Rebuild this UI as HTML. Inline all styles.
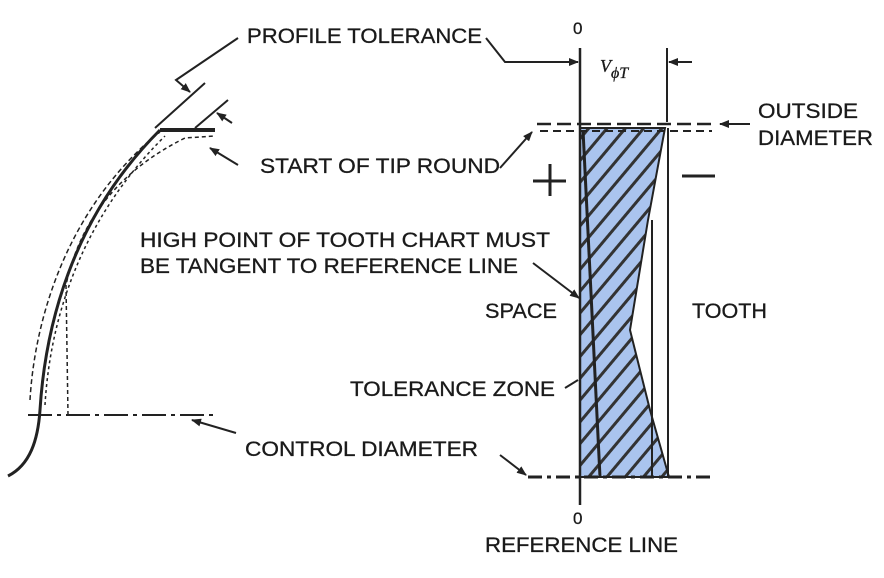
<!DOCTYPE html>
<html><head><meta charset="utf-8"><style>
html,body{margin:0;padding:0;background:#fff;}
svg{display:block;}
text{font-family:"Liberation Sans",sans-serif;font-size:21px;fill:#1a1a1a;stroke:#1a1a1a;stroke-width:0.3;}
</style></head><body>
<svg width="884" height="578" viewBox="0 0 884 578" xmlns="http://www.w3.org/2000/svg">
<defs>
<marker id="a" markerWidth="10" markerHeight="8" refX="9" refY="4" orient="auto" markerUnits="userSpaceOnUse">
<path d="M0,0 L10,4 L0,8 z" fill="#222"/></marker>
<pattern id="h" width="14" height="14" patternUnits="userSpaceOnUse" patternTransform="rotate(40)">
<rect width="14" height="14" fill="#aac4ee"/><rect width="3" height="14" fill="#333"/></pattern>
</defs>
<g stroke="#222" fill="none">
<!-- left profile -->
<path d="M8,476 C30,465 38,440 40,410 C45,330 70,220 160,130" stroke-width="3"/>
<path d="M160,130 L215,130" stroke-width="4"/>
<path d="M30,400 C34,330 60,220 150,140 L160,132" stroke-width="1.5" stroke-dasharray="5,3"/>
<path d="M68,415 L66,285 C80,220 120,170 185,138 L215,136" stroke-width="1.5" stroke-dasharray="4,3"/>
<path d="M45,405 C50,320 80,220 165,136" stroke-width="1.5" stroke-dasharray="3,3"/>
<path d="M28,415 L215,415" stroke-width="2" stroke-dasharray="24,5,4,5"/>
<!-- profile tolerance leader -->
<path d="M155,128 L205,83" stroke-width="2"/>
<path d="M238,38 L176,80 L190,92" stroke-width="2" marker-end="url(#a)"/>
<path d="M195,128 L228,100" stroke-width="2"/>
<path d="M232,123 L217,113" stroke-width="2" marker-end="url(#a)"/>
<path d="M238,165 L210,148" stroke-width="2" marker-end="url(#a)"/>
<path d="M236,433 L192,420" stroke-width="2" marker-end="url(#a)"/>
<!-- right chart -->
<path d="M580,128 L665,128 L648,220 L630,330 L650,410 L669,477 L580,477 z" fill="url(#h)" stroke="#222" stroke-width="2"/>
<path d="M580,48 L580,505" stroke-width="2.5"/>
<path d="M667,48 L667,122" stroke-width="2"/>
<path d="M668,128 L668,477" stroke-width="2"/>
<path d="M652,220 L652,477" stroke-width="2"/>
<path d="M583,130 L600,477" stroke-width="3"/>
<path d="M537,124 L715,124" stroke-width="2.5" stroke-dasharray="14,6"/>
<path d="M540,131 L712,131" stroke-width="2" stroke-dasharray="8,5"/>
<path d="M528,477 L712,477" stroke-width="3" stroke-dasharray="14,5,4,5"/>
<path d="M486,38 L505,62 L578,62" stroke-width="2" marker-end="url(#a)"/>
<path d="M692,62 L669,62" stroke-width="2" marker-end="url(#a)"/>
<path d="M750,124 L720,124" stroke-width="2" marker-end="url(#a)"/>
<path d="M500,168 L532,132" stroke-width="2" marker-end="url(#a)"/>
<path d="M533,263 L579,298" stroke-width="2" marker-end="url(#a)"/>
<path d="M565,388 L578,380" stroke-width="2"/>
<path d="M500,455 L526,475" stroke-width="2" marker-end="url(#a)"/>
<path d="M533,181 L566,181 M550,164 L550,196" stroke-width="3"/>
<path d="M682,176 L715,176" stroke-width="3"/>
</g>
<text x="247" y="43" textLength="235" lengthAdjust="spacingAndGlyphs">PROFILE TOLERANCE</text>
<text x="260" y="173" textLength="240" lengthAdjust="spacingAndGlyphs">START OF TIP ROUND</text>
<text x="140" y="247" textLength="410" lengthAdjust="spacingAndGlyphs">HIGH POINT OF TOOTH CHART MUST</text>
<text x="140" y="273" textLength="378" lengthAdjust="spacingAndGlyphs">BE TANGENT TO REFERENCE LINE</text>
<text x="485" y="318" textLength="72" lengthAdjust="spacingAndGlyphs">SPACE</text>
<text x="692" y="318" textLength="75" lengthAdjust="spacingAndGlyphs">TOOTH</text>
<text x="350" y="396" textLength="205" lengthAdjust="spacingAndGlyphs">TOLERANCE ZONE</text>
<text x="245" y="456" textLength="233" lengthAdjust="spacingAndGlyphs">CONTROL DIAMETER</text>
<text x="758" y="118" textLength="100" lengthAdjust="spacingAndGlyphs">OUTSIDE</text>
<text x="758" y="145" textLength="115" lengthAdjust="spacingAndGlyphs">DIAMETER</text>
<text x="485" y="552" textLength="193" lengthAdjust="spacingAndGlyphs">REFERENCE LINE</text>
<text x="573" y="34" style="font-size:17px">0</text>
<text x="573" y="524" style="font-size:17px">0</text>
<text x="600" y="72" style="font-family:'Liberation Serif',serif;font-style:italic;font-size:18px">V<tspan dy="6" style="font-size:16px">ϕT</tspan></text>
</svg>
</body></html>
